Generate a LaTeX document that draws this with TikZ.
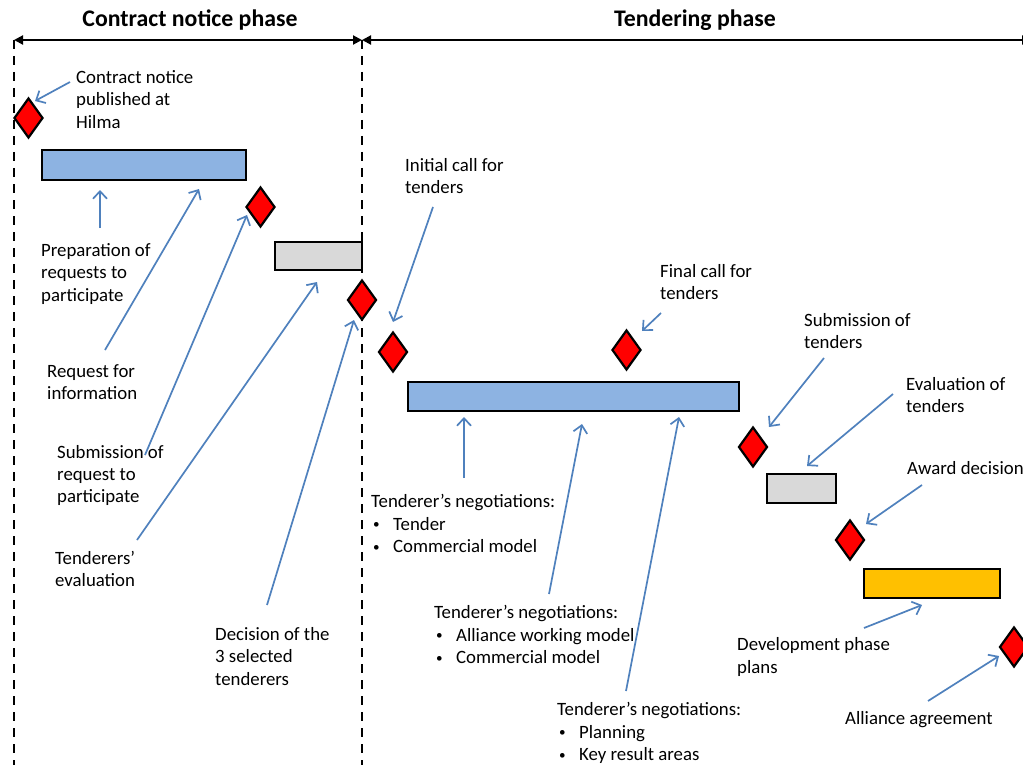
\documentclass[tikz,border=0pt]{standalone}
\usepackage{fontspec}
\setmainfont{Carlito}
\usetikzlibrary{arrows.meta,shapes.geometric}
\definecolor{ptrblue}{RGB}{79,129,189}
\definecolor{barblue}{RGB}{141,179,226}
\definecolor{bargray}{RGB}{217,217,217}
\definecolor{barorange}{RGB}{255,192,0}
\newcommand{\bul}{\makebox[22pt][l]{\hspace{2pt}\raisebox{1.2pt}{\scalebox{0.7}{•}}}}
\begin{document}
\begin{tikzpicture}[x=1pt,y=-1pt,
  lbl/.style={anchor=west,align=left,inner sep=0pt,font=\fontsize{18.8}{22.3}\selectfont},
  ttl/.style={inner sep=0pt,font=\fontsize{23.8}{27}\selectfont\bfseries},
  bar/.style={draw=black,line width=2pt},
  milestone/.style={diamond,draw=black,fill=red,line width=2.2pt,minimum width=29pt,minimum height=40pt,inner sep=0pt},
  ptr/.style={draw=ptrblue,line width=1.7pt,-{Straight Barb[length=7.5pt,width=14pt,line width=1.7pt]}},
  phase/.style={line width=2pt,{Triangle[length=9pt,width=9pt]}-{Triangle[length=9pt,width=9pt]}},
  divider/.style={line width=2pt,dash pattern=on 9pt off 7pt}]
\useasboundingbox (0,0) rectangle (1023,765);
\clip (0,0) rectangle (1023,765);
\fill[white] (0,0) rectangle (1023,765);

% phase markers
\coordinate (L) at (14,40);
\coordinate (M) at (362,40);
\coordinate (R) at (1031,40);
\coordinate (Lb) at (14,765);
\coordinate (Mb) at (362,765);
\draw[divider] (L) -- (Lb);
\draw[divider] (M) -- (Mb);
\draw[phase] (L) -- (M);
\draw[phase] (M) -- (R);
\node[ttl] (t1) at (190,20) {Contract notice phase};
\node[ttl] (t2) at (695,20) {Tendering phase};

% bars
\draw[bar,fill=barblue] (42,150) rectangle (246,180);
\draw[bar,fill=bargray] (275,242) rectangle (362,270);
\draw[bar,fill=barblue] (408,382) rectangle (739,411);
\draw[bar,fill=bargray] (767,474) rectangle (836,503);
\draw[bar,fill=barorange] (864,569) rectangle (1000,598);

% milestones
\node[milestone] (d1) at (28.5,118) {};
\node[milestone] (d2) at (260.5,207) {};
\node[milestone] (d3) at (362,300) {};
\node[milestone] (d4) at (393,352) {};
\node[milestone] (d5) at (626.5,350) {};
\node[milestone] (d6) at (753,447) {};
\node[milestone] (d7) at (850,540) {};
\node[milestone] (d8) at (1014,647) {};

% labels
\node[lbl] (cn) at (76,99.5) {Contract notice\\published at\\Hilma};
\node[lbl] (prep) at (41,274) {Preparation of\\requests to\\participate};
\node[lbl] (rfi) at (47,382) {Request for\\information};
\node[lbl] (subreq) at (57,475.5) {Submission of\\request to\\participate};
\node[lbl] (teval) at (55,569) {Tenderers’\\evaluation};
\node[lbl] (dec) at (215,656.5) {Decision of the\\3 selected\\tenderers};
\node[lbl] (icall) at (405,176) {Initial call for\\tenders};
\node[lbl] (fcall) at (660,282) {Final call for\\tenders};
\node[lbl] (neg1) at (371,523.5) {Tenderer’s negotiations:\\\bul Tender\\\bul Commercial model};
\node[lbl] (neg2) at (434,634.5) {Tenderer’s negotiations:\\\bul Alliance working model\\\bul Commercial model};
\node[lbl] (neg3) at (557,733) {Tenderer’s negotiations:\\\bul Planning\\\bul Key result areas};
\node[lbl] (subt) at (804,331) {Submission of\\tenders};
\node[lbl] (evalt) at (906,395) {Evaluation of\\tenders};
\node[lbl] (award) at (907,468) {Award decision};
\node[lbl] (dev) at (737,657) {Development phase\\plans};
\node[lbl] (alli) at (845,720) {Alliance agreement};

% pointer ends
\coordinate (a1s) at (70,82);   \coordinate (a1e) at (35,101);
\coordinate (a2s) at (100,228); \coordinate (a2e) at (100,190);
\coordinate (a3s) at (105,350); \coordinate (a3e) at (199,189);
\coordinate (a4s) at (145,455); \coordinate (a4e) at (247,215);
\coordinate (a5s) at (137,540); \coordinate (a5e) at (317,282);
\coordinate (a6s) at (267,605); \coordinate (a6e) at (354,320);
\coordinate (a7s) at (433,207); \coordinate (a7e) at (393,322);
\coordinate (a8s) at (661,313); \coordinate (a8e) at (642,331);
\coordinate (a9s) at (464,478); \coordinate (a9e) at (464,417);
\coordinate (a10s) at (549,594); \coordinate (a10e) at (582,424);
\coordinate (a11s) at (626,691); \coordinate (a11e) at (679,417);
\coordinate (a12s) at (824,358); \coordinate (a12e) at (769,427);
\coordinate (a13s) at (893,394); \coordinate (a13e) at (807,466);
\coordinate (a14s) at (922,485); \coordinate (a14e) at (866,524);
\coordinate (a15s) at (864,628); \coordinate (a15e) at (922,605);
\coordinate (a16s) at (928,701); \coordinate (a16e) at (999,656);

\foreach \i in {1,...,16} \draw[ptr] (a\i s) -- (a\i e);
\end{tikzpicture}
\end{document}
